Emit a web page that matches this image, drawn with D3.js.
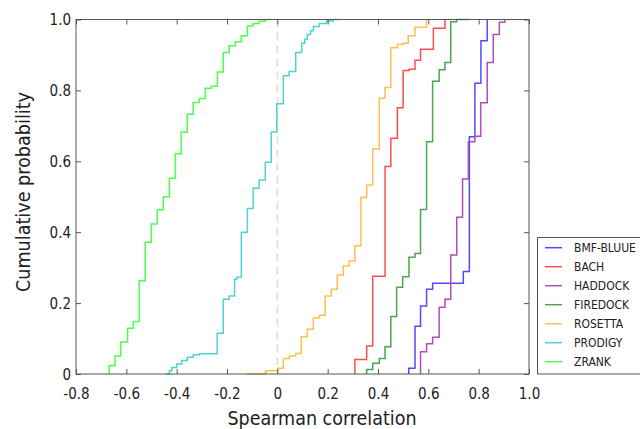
<!DOCTYPE html>
<html><head><meta charset="utf-8">
<script src="https://cdn.jsdelivr.net/npm/d3@7/dist/d3.min.js"></script>
<style>
body{margin:0;background:#fff}
svg{display:block}
text{font-family:'DejaVu Sans Condensed','DejaVu Sans',sans-serif;font-stretch:condensed;fill:#222}
</style>
</head><body>
<svg id="c" width="640" height="429"></svg>
<script>
// ---- data ----
const seriesNames = ["BMF-BLUUE","BACH","HADDOCK","FIREDOCK","ROSETTA","PRODIGY","ZRANK"];
const seriesColors = ["#4d4dff","#ff4d4d","#b04cbc","#4da64d","#ffc04d","#4dd3d3","#4dff4d"];

const bmfX = [0.522,0.522,0.547,0.569,0.593,0.617,0.739,0.763,0.785,0.809,0.834];
const bmfP = [0,0.016,0.135,0.192,0.239,0.256,0.289,0.669,0.820,0.940,1.0];

const bachX = [0.308,0.308,0.355,0.379,0.428,0.451,0.477,0.500,0.524,0.547,0.569,0.620,0.666];
const bachP = [0,0.041,0.079,0.276,0.585,0.665,0.751,0.856,0.860,0.885,0.916,0.975,1.0];

const haddockX = [0.569,0.569,0.593,0.617,0.643,0.666,0.689,0.713,0.736,0.759,0.785,0.808,0.834,0.858,0.882,0.904];
const haddockP = [0,0.063,0.085,0.104,0.188,0.211,0.336,0.442,0.550,0.655,0.671,0.765,0.879,0.958,0.992,1.0];

const firedockX = [0.355,0.355,0.379,0.405,0.428,0.451,0.474,0.498,0.523,0.547,0.569,0.593,0.617,0.643,0.666,0.689,0.713,0.761];
const firedockP = [0,0.013,0.030,0.044,0.077,0.162,0.245,0.274,0.329,0.340,0.464,0.655,0.826,0.858,0.879,0.994,1.0,1.0];

const rosettaX = [-0.122,-0.049,-0.045,0.001,0.024,0.047,0.073,0.095,0.119,0.143,0.167,0.190,0.214,0.238,0.262,0.286,0.308,0.332,0.355,0.379,0.405,0.428,0.451,0.477,0.500,0.520,0.547,0.593,0.598];
const rosettaP = [0,0.004,0.009,0.016,0.044,0.051,0.058,0.105,0.126,0.158,0.166,0.220,0.239,0.279,0.305,0.319,0.362,0.498,0.533,0.635,0.778,0.808,0.920,0.930,0.933,0.954,0.978,1.0,1.0];

const prodigyX = [-0.442,-0.429,-0.419,-0.400,-0.380,-0.358,-0.334,-0.310,-0.239,-0.215,-0.191,-0.170,-0.162,-0.143,-0.119,-0.096,-0.072,-0.048,-0.024,-0.002,0.024,0.047,0.073,0.097,0.109,0.119,0.132,0.143,0.167,0.196,0.222,0.249];
const prodigyP = [0,0.009,0.018,0.028,0.038,0.047,0.054,0.057,0.115,0.211,0.220,0.267,0.273,0.400,0.467,0.524,0.547,0.597,0.683,0.762,0.841,0.853,0.907,0.933,0.944,0.958,0.968,0.980,0.989,0.996,1.0,1.0];

const zrankX = [-0.668,-0.668,-0.645,-0.622,-0.595,-0.572,-0.549,-0.525,-0.501,-0.477,-0.453,-0.429,-0.405,-0.382,-0.358,-0.334,-0.310,-0.286,-0.262,-0.238,-0.215,-0.191,-0.166,-0.143,-0.119,-0.096,-0.072,-0.048,-0.025];
const zrankP = [0,0.023,0.051,0.090,0.129,0.148,0.263,0.372,0.423,0.463,0.500,0.552,0.621,0.682,0.733,0.766,0.777,0.806,0.812,0.852,0.907,0.926,0.937,0.954,0.982,0.989,0.995,1.0,1.0];

const xTicks = [-0.8,-0.6,-0.4,-0.2,0,0.2,0.4,0.6,0.8,1.0];
const xTickLabels = ["-0.8","-0.6","-0.4","-0.2","0","0.2","0.4","0.6","0.8","1.0"];
const yTicks = [0,0.2,0.4,0.6,0.8,1.0];
const yTickLabels = ["0","0.2","0.4","0.6","0.8","1.0"];
const xTitle = "Spearman correlation";
const yTitle = "Cumulative probability";

const seriesX = [bmfX,bachX,haddockX,firedockX,rosettaX,prodigyX,zrankX];
const seriesP = [bmfP,bachP,haddockP,firedockP,rosettaP,prodigyP,zrankP];

// ---- layout ----
const L = 76, R = 529, T = 19.5, B = 374;
const svg = d3.select("#c");
const x = d3.scaleLinear().domain([-0.8,1.0]).range([L,R]);
const y = d3.scaleLinear().domain([0,1]).range([B,T]);
const axisColor = "#555";

// zero reference line
svg.append("line")
  .attr("x1",x(0)).attr("x2",x(0)).attr("y1",T).attr("y2",B)
  .attr("stroke","#dcdcdc").attr("stroke-width",1.5).attr("stroke-dasharray","8,5");

// series
const line = d3.line().x(d=>x(d[0])).y(d=>y(d[1])).curve(d3.curveStepAfter);
seriesNames.forEach((name,i)=>{
  const pts = seriesX[i].map((v,j)=>[v,seriesP[i][j]]);
  svg.append("path").datum(pts)
    .attr("d",line).attr("fill","none")
    .attr("stroke",seriesColors[i]).attr("stroke-width",1.5)
    .attr("stroke-linejoin","miter");
});

// frame
svg.append("rect").attr("x",L).attr("y",T).attr("width",R-L).attr("height",B-T)
  .attr("fill","none").attr("stroke",axisColor).attr("stroke-width",1);

// axes (ticks inward)
const tk = 5;
const gx = svg.append("g").attr("transform",`translate(0,${B})`)
  .call(d3.axisBottom(x).tickValues(xTicks).tickSizeInner(-tk).tickSizeOuter(0).tickPadding(14)
    .tickFormat((d,i)=>xTickLabels[i]));
const gxt = svg.append("g").attr("transform",`translate(0,${T})`)
  .call(d3.axisTop(x).tickValues(xTicks).tickSizeInner(-tk).tickSizeOuter(0).tickFormat(""));
const gy = svg.append("g").attr("transform",`translate(${L},0)`)
  .call(d3.axisLeft(y).tickValues(yTicks).tickSizeInner(-tk).tickSizeOuter(0).tickPadding(10)
    .tickFormat((d,i)=>yTickLabels[i]));
const gyr = svg.append("g").attr("transform",`translate(${R},0)`)
  .call(d3.axisRight(y).tickValues(yTicks).tickSizeInner(-tk).tickSizeOuter(0).tickFormat(""));
[gx,gxt,gy,gyr].forEach(g=>{
  g.select(".domain").remove();
  g.selectAll(".tick line").attr("stroke",axisColor);
  g.selectAll("text").style("font-size","15px").attr("fill","#222");
});
gx.selectAll("text").attr("dy","0.71em");
gy.selectAll("text").attr("x",-5).attr("dy","0.35em");

// axis titles
svg.append("text").attr("x",322).attr("y",425).attr("text-anchor","middle")
  .style("font-size","20px").attr("textLength",189).attr("lengthAdjust","spacingAndGlyphs").text(xTitle);
svg.append("text").attr("transform","translate(29.5,192) rotate(-90)").attr("text-anchor","middle")
  .style("font-size","20px").attr("textLength",200).attr("lengthAdjust","spacingAndGlyphs").text(yTitle);

// legend
const lg = svg.append("g");
lg.append("rect").attr("x",537.5).attr("y",237.5).attr("width",110).attr("height",136.5)
  .attr("fill","#fff").attr("stroke",axisColor).attr("stroke-width",1);
seriesNames.forEach((name,i)=>{
  const yy = 247.7 + i*19;
  lg.append("line").attr("x1",545).attr("x2",562).attr("y1",yy).attr("y2",yy)
    .attr("stroke",seriesColors[i]).attr("stroke-width",1.5);
  lg.append("text").attr("x",574).attr("y",yy).attr("dy","0.36em")
    .style("font-size","12px").text(name);
});
</script>
</body></html>
